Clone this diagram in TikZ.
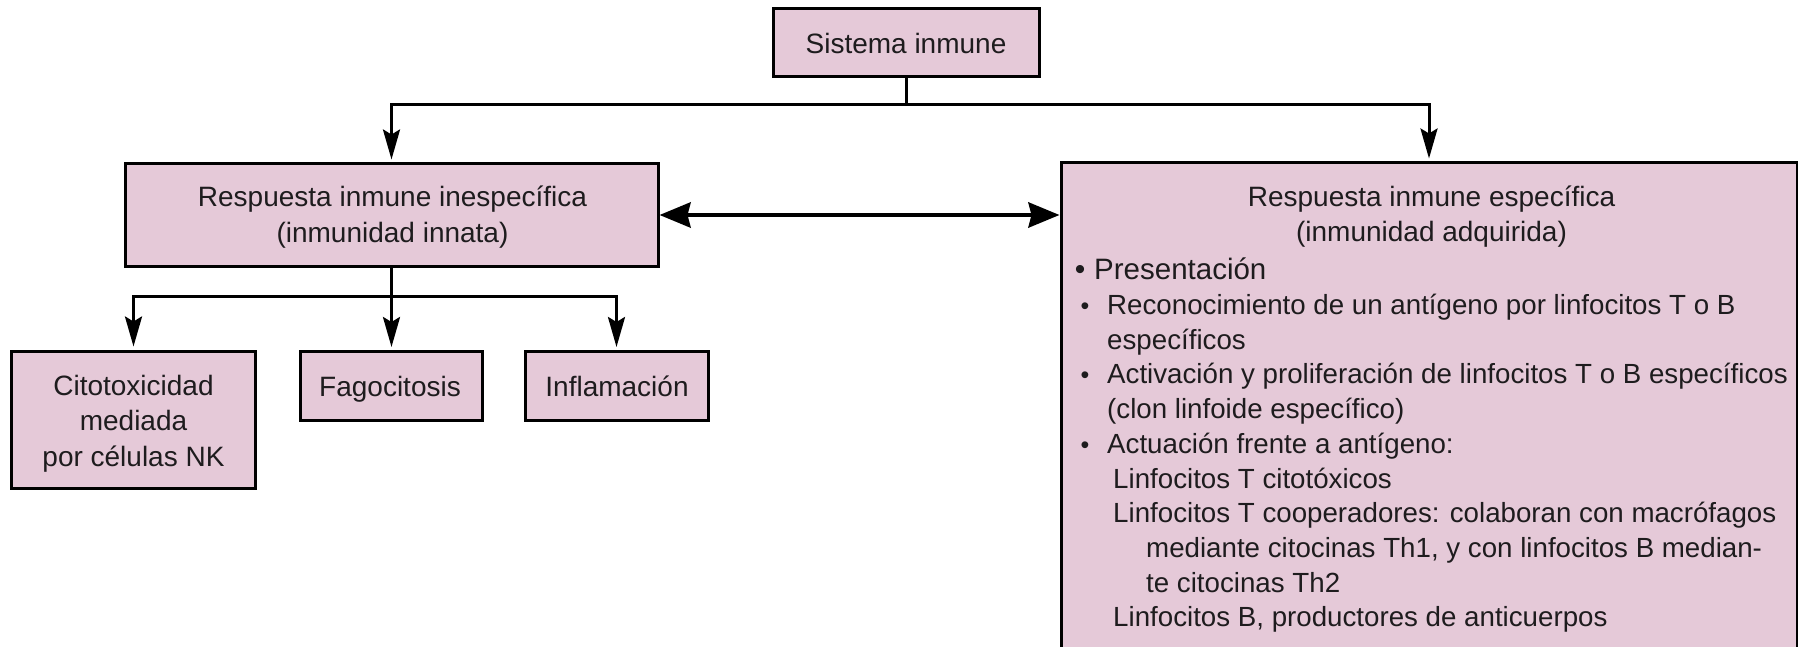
\documentclass[tikz,border=0pt]{standalone}
\usepackage{fontspec}
\setmainfont{Liberation Sans}
\usetikzlibrary{arrows.meta}
\definecolor{boxfill}{RGB}{229,201,216}
\definecolor{txt}{RGB}{30,28,30}
\tikzset{
  box/.style={draw=black, line width=3pt, fill=boxfill, inner sep=0pt},
  lbl/.style={anchor=base, inner sep=0pt, font=\fontsize{28}{35}\selectfont, text=txt},
  conn/.style={line width=3pt, draw=black},
  arr/.style={conn, -{Stealth[length=30pt,width=17pt,inset=5pt]}, shorten >=3pt},
  dblarr/.style={line width=4.5pt, draw=black,
    {Stealth[length=31pt,width=25pt,inset=3pt]}-{Stealth[length=31pt,width=25pt,inset=3pt]}},
  body/.style={anchor=base west, inner sep=0pt, font=\fontsize{27.7}{35}\selectfont, text=txt},
  bigbody/.style={anchor=base west, inner sep=0pt, font=\fontsize{29.5}{35}\selectfont, text=txt},
  bul/.style={anchor=base, inner sep=0pt, font=\fontsize{25}{25}\selectfont, text=txt},
  bigbul/.style={anchor=base, inner sep=0pt, font=\fontsize{30}{30}\selectfont, text=txt},
}
\begin{document}
\begin{tikzpicture}[x=1pt,y=-1pt]
\useasboundingbox (0,0) rectangle (1798,647);
\fill[white] (0,0) rectangle (1798,647);

% boxes
\node[box, minimum width=266pt, minimum height=68pt] (sys) at (906,43) {};
\node[box, minimum width=533pt, minimum height=102pt] (inesp) at (391.5,215) {};
\node[box, minimum width=736pt, minimum height=486pt] (esp) at (1429,406) {};
\node[box, minimum width=244pt, minimum height=137pt] (cito) at (133.5,419.5) {};
\node[box, minimum width=182pt, minimum height=69pt] (fago) at (391.5,386) {};
\node[box, minimum width=183pt, minimum height=69pt] (infl) at (616.5,386) {};

% box texts
\node[lbl] (systx) at (906,53.5) {Sistema inmune};
\node[lbl] (inesp1) at (392.5,207) {Respuesta inmune inespecífica};
\node[lbl] (inesp2) at (392.5,242) {(inmunidad innata)};
\node[lbl] (cito1) at (133.5,395) {Citotoxicidad};
\node[lbl] (cito2) at (133.5,430.5) {mediada};
\node[lbl] (cito3) at (133.5,466) {por células NK};
\node[lbl] (fagotx) at (390,396) {Fagocitosis};
\node[lbl] (infltx) at (617,396) {Inflamación};
\node[lbl] (esp1) at (1431.5,207) {Respuesta inmune específica};
\node[lbl] (esp2) at (1431.5,241.5) {(inmunidad adquirida)};

% connectors
\coordinate (j1) at (906,105);
\draw[conn] (sys.south) -- (j1);
\draw[arr] (j1) -| (inesp.north);
\draw[arr] (j1) -| (esp.north);
\coordinate (j2) at (391.5,296);
\draw[conn] (inesp.south) -- (j2);
\draw[arr] (j2) -| (cito.north);
\draw[arr] (j2) -- (fago.north);
\draw[arr] (j2) -| (infl.north);
\draw[dblarr] (inesp.east) -- (inesp.east -| esp.west);

% right box content
\node[bigbul] (bp) at (1080,279.5) {•};
\node[bigbody] (t0) at (1094,279.5) {Presentación};
\node[bul] (b1) at (1085,314.5) {•};
\node[body] (t1) at (1107,314.5) {Reconocimiento de un antígeno por linfocitos T o B};
\node[body] (t2) at (1107,349.2) {específicos};
\node[bul] (b2) at (1085,383.9) {•};
\node[body] (t3) at (1107,383.9) {Activación y proliferación de linfocitos T o B específicos};
\node[body] (t4) at (1107,418.5) {(clon linfoide específico)};
\node[bul] (b3) at (1085,453.3) {•};
\node[body] (t5) at (1107,453.3) {Actuación frente a antígeno:};
\node[body] (t6) at (1113,488) {Linfocitos T citotóxicos};
\node[body] (t7) at (1113,522.5) {Linfocitos T cooperadores: colaboran con macrófagos};
\node[body] (t8) at (1146,557.5) {mediante citocinas Th1, y con linfocitos B median-};
\node[body] (t9) at (1146,592) {te citocinas Th2};
\node[body] (t10) at (1113,626.8) {Linfocitos B, productores de anticuerpos};
\end{tikzpicture}
\end{document}
